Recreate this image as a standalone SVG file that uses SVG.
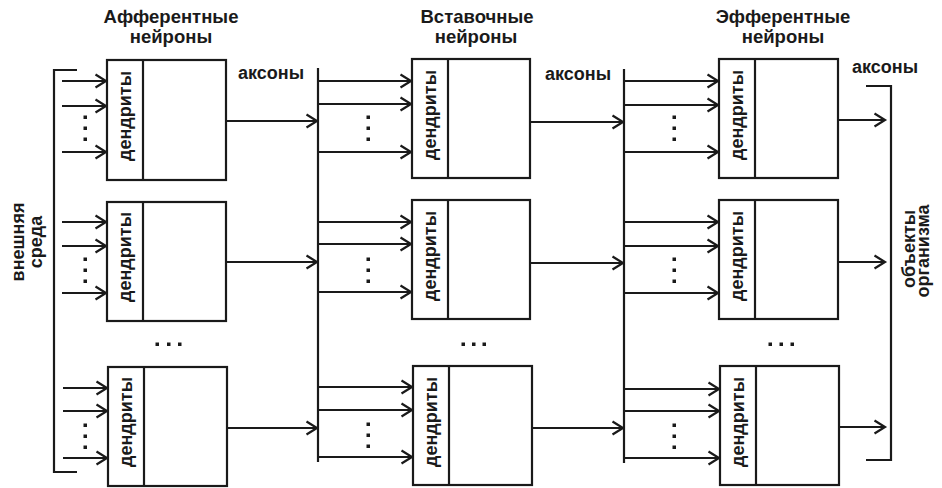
<svg xmlns="http://www.w3.org/2000/svg" width="942" height="488" viewBox="0 0 942 488">
<defs>
<marker id="ah" markerUnits="userSpaceOnUse" markerWidth="14" markerHeight="16" refX="12" refY="7" orient="auto" viewBox="0 0 14 14" overflow="visible">
<path d="M1.5,0.5 L12,7 L1.5,13.5" fill="none" stroke="#1a1a1a" stroke-width="2.2"/>
</marker>
</defs>
<style>
text{font-family:"Liberation Sans",Arial,sans-serif;font-weight:bold;font-size:18px;fill:#1a1a1a}
.h{font-size:18.5px}
.t{text-anchor:middle}
.box{fill:#fff;stroke:#1a1a1a;stroke-width:2.2}
.ln{stroke:#1a1a1a;stroke-width:2.2;fill:none}
.ar{stroke:#1a1a1a;stroke-width:2.2;fill:none;marker-end:url(#ah)}
.dot{fill:#1a1a1a}
</style>
<rect width="942" height="488" fill="#fff"/>

<g id="labels">
<text class="t h" x="171" y="22.5">Афферентные</text>
<text class="t h" x="171" y="42.5">нейроны</text>
<text class="t h" x="477" y="22.5">Вставочные</text>
<text class="t h" x="476" y="42.5">нейроны</text>
<text class="t h" x="783" y="22.5">Эфферентные</text>
<text class="t h" x="783" y="42.5">нейроны</text>
<text x="238" y="79">аксоны</text>
<text x="545" y="80">аксоны</text>
<text x="852" y="73">аксоны</text>
<text class="t" transform="translate(23.5,242) rotate(-90)">внешняя</text>
<text class="t" transform="translate(41.5,242) rotate(-90)">среда</text>
<text class="t" transform="translate(915,249) rotate(-90)">объекты</text>
<text class="t" transform="translate(929,251) rotate(-90)">организма</text>
</g>

<g id="n-a1"><rect class="box" x="107" y="60" width="119" height="120"/><line class="ln" x1="143" y1="60" x2="143" y2="180"/><text class="t" transform="translate(131,116) rotate(-90)">дендриты</text></g>
<g id="n-a2"><rect class="box" x="107" y="202" width="119" height="119"/><line class="ln" x1="143" y1="202" x2="143" y2="321"/><text class="t" transform="translate(131,257) rotate(-90)">дендриты</text></g>
<g id="n-a3"><rect class="box" x="108" y="367" width="119" height="119"/><line class="ln" x1="144" y1="367" x2="144" y2="486"/><text class="t" transform="translate(132,422) rotate(-90)">дендриты</text></g>

<g id="n-b1"><rect class="box" x="412" y="59" width="118" height="119"/><line class="ln" x1="448" y1="59" x2="448" y2="178"/><text class="t" transform="translate(435.5,115) rotate(-90)">дендриты</text></g>
<g id="n-b2"><rect class="box" x="412" y="200" width="118" height="119"/><line class="ln" x1="448" y1="200" x2="448" y2="319"/><text class="t" transform="translate(435.5,256) rotate(-90)">дендриты</text></g>
<g id="n-b3"><rect class="box" x="413" y="366" width="119" height="119"/><line class="ln" x1="449" y1="366" x2="449" y2="485"/><text class="t" transform="translate(436.5,422) rotate(-90)">дендриты</text></g>

<g id="n-c1"><rect class="box" x="719" y="59" width="119" height="119"/><line class="ln" x1="755" y1="59" x2="755" y2="178"/><text class="t" transform="translate(742.5,115) rotate(-90)">дендриты</text></g>
<g id="n-c2"><rect class="box" x="719" y="200" width="119" height="119"/><line class="ln" x1="755" y1="200" x2="755" y2="319"/><text class="t" transform="translate(742.5,256) rotate(-90)">дендриты</text></g>
<g id="n-c3"><rect class="box" x="720" y="366" width="119" height="119"/><line class="ln" x1="756" y1="366" x2="756" y2="485"/><text class="t" transform="translate(743.5,422) rotate(-90)">дендриты</text></g>

<g id="connectors">
<polyline class="ln" points="77,70 54,70 54,472 77,472"/>
<polyline class="ln" points="866,86 891,86 891,460 866,460"/>
<line class="ln" x1="318" y1="68" x2="318" y2="462"/>
<line class="ln" x1="624" y1="69" x2="624" y2="463"/>

<line class="ar" x1="62" y1="81" x2="106" y2="81"/>
<line class="ar" x1="62" y1="106" x2="106" y2="106"/>
<line class="ar" x1="62" y1="152" x2="106" y2="152"/>
<line class="ar" x1="62" y1="222" x2="106" y2="222"/>
<line class="ar" x1="62" y1="246" x2="106" y2="246"/>
<line class="ar" x1="62" y1="293" x2="106" y2="293"/>
<line class="ar" x1="63" y1="388" x2="107" y2="388"/>
<line class="ar" x1="63" y1="411" x2="107" y2="411"/>
<line class="ar" x1="63" y1="458" x2="107" y2="458"/>

<line class="ar" x1="318" y1="81" x2="411" y2="81"/>
<line class="ar" x1="318" y1="104" x2="411" y2="104"/>
<line class="ar" x1="318" y1="152" x2="411" y2="152"/>
<line class="ar" x1="318" y1="222" x2="411" y2="222"/>
<line class="ar" x1="318" y1="244" x2="411" y2="244"/>
<line class="ar" x1="318" y1="292" x2="411" y2="292"/>
<line class="ar" x1="318" y1="387" x2="412" y2="387"/>
<line class="ar" x1="318" y1="410" x2="412" y2="410"/>
<line class="ar" x1="318" y1="457" x2="412" y2="457"/>

<line class="ar" x1="624" y1="81" x2="718" y2="81"/>
<line class="ar" x1="624" y1="105" x2="718" y2="105"/>
<line class="ar" x1="624" y1="152" x2="718" y2="152"/>
<line class="ar" x1="624" y1="222" x2="718" y2="222"/>
<line class="ar" x1="624" y1="246" x2="718" y2="246"/>
<line class="ar" x1="624" y1="293" x2="718" y2="293"/>
<line class="ar" x1="624" y1="389" x2="719" y2="389"/>
<line class="ar" x1="624" y1="411" x2="719" y2="411"/>
<line class="ar" x1="624" y1="458" x2="719" y2="458"/>

<line class="ar" x1="226" y1="121" x2="317" y2="121"/>
<line class="ar" x1="226" y1="262" x2="317" y2="262"/>
<line class="ar" x1="227" y1="428" x2="317" y2="428"/>
<line class="ar" x1="530" y1="122" x2="623" y2="122"/>
<line class="ar" x1="530" y1="263" x2="623" y2="263"/>
<line class="ar" x1="532" y1="428" x2="623" y2="428"/>
<line class="ar" x1="838" y1="120" x2="885" y2="120"/>
<line class="ar" x1="838" y1="262" x2="885" y2="262"/>
<line class="ar" x1="839" y1="427" x2="885" y2="427"/>
</g>

<g id="ellipses">
<rect class="dot" x="83.5" y="115.5" width="3.5" height="3.5"/><rect class="dot" x="83.5" y="126.5" width="3.5" height="3.5"/><rect class="dot" x="83.5" y="137.5" width="3.5" height="3.5"/>
<rect class="dot" x="83.5" y="257.5" width="3.5" height="3.5"/><rect class="dot" x="83.5" y="268.5" width="3.5" height="3.5"/><rect class="dot" x="83.5" y="279.5" width="3.5" height="3.5"/>
<rect class="dot" x="83.5" y="423.5" width="3.5" height="3.5"/><rect class="dot" x="83.5" y="434.5" width="3.5" height="3.5"/><rect class="dot" x="83.5" y="445.5" width="3.5" height="3.5"/>

<rect class="dot" x="366.5" y="115.5" width="3.5" height="3.5"/><rect class="dot" x="366.5" y="126.5" width="3.5" height="3.5"/><rect class="dot" x="366.5" y="137.5" width="3.5" height="3.5"/>
<rect class="dot" x="366.5" y="257.5" width="3.5" height="3.5"/><rect class="dot" x="366.5" y="268.5" width="3.5" height="3.5"/><rect class="dot" x="366.5" y="279.5" width="3.5" height="3.5"/>
<rect class="dot" x="366.5" y="422.5" width="3.5" height="3.5"/><rect class="dot" x="366.5" y="433.5" width="3.5" height="3.5"/><rect class="dot" x="366.5" y="444.5" width="3.5" height="3.5"/>

<rect class="dot" x="672.5" y="115.5" width="3.5" height="3.5"/><rect class="dot" x="672.5" y="126.5" width="3.5" height="3.5"/><rect class="dot" x="672.5" y="137.5" width="3.5" height="3.5"/>
<rect class="dot" x="672.5" y="257.5" width="3.5" height="3.5"/><rect class="dot" x="672.5" y="268.5" width="3.5" height="3.5"/><rect class="dot" x="672.5" y="279.5" width="3.5" height="3.5"/>
<rect class="dot" x="672.5" y="423.5" width="3.5" height="3.5"/><rect class="dot" x="672.5" y="434.5" width="3.5" height="3.5"/><rect class="dot" x="672.5" y="445.5" width="3.5" height="3.5"/>

<rect class="dot" x="155.5" y="342.5" width="3.5" height="3.5"/><rect class="dot" x="167" y="342.5" width="3.5" height="3.5"/><rect class="dot" x="178" y="342.5" width="3.5" height="3.5"/>
<rect class="dot" x="461.5" y="342.5" width="3.5" height="3.5"/><rect class="dot" x="472" y="342.5" width="3.5" height="3.5"/><rect class="dot" x="482.5" y="342.5" width="3.5" height="3.5"/>
<rect class="dot" x="768.5" y="342.5" width="3.5" height="3.5"/><rect class="dot" x="779.5" y="342.5" width="3.5" height="3.5"/><rect class="dot" x="790.5" y="342.5" width="3.5" height="3.5"/>
</g>
</svg>
